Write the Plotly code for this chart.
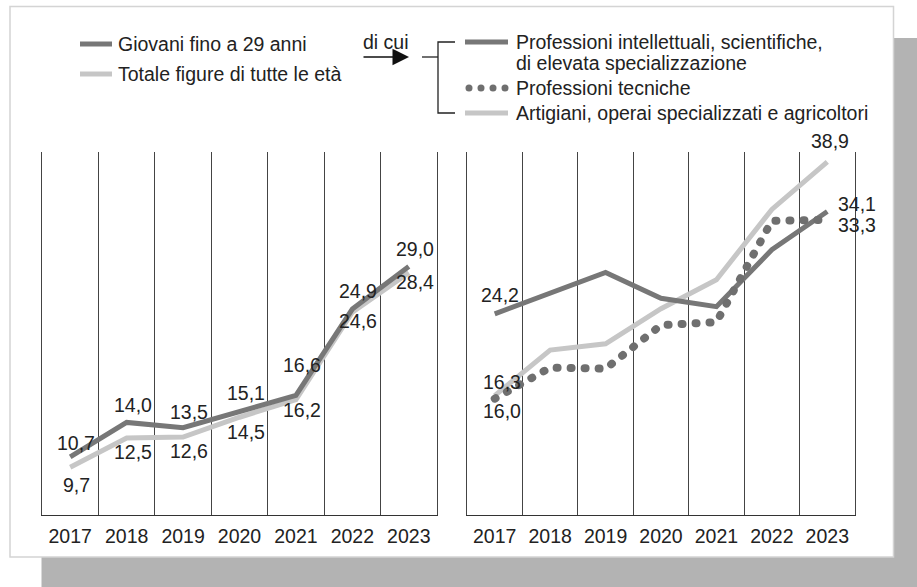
import plotly.graph_objects as go

# ---------------- data ----------------
years = ["2017", "2018", "2019", "2020", "2021", "2022", "2023"]

giovani = [10.7, 14.0, 13.5, 15.1, 16.6, 24.9, 29.0]
totale = [9.7, 12.5, 12.6, 14.5, 16.2, 24.6, 28.4]

intellettuali = [24.2, 26.2, 28.2, 25.7, 24.9, 30.4, 34.1]
tecniche = [16.0, 19.0, 18.9, 23.1, 23.4, 33.2, 33.3]
artigiani = [16.3, 20.7, 21.3, 24.7, 27.5, 34.3, 38.9]

legend_left = ["Giovani fino a 29 anni", "Totale figure di tutte le età"]
legend_right = ["Professioni intellettuali, scientifiche,", "di elevata specializzazione",
                "Professioni tecniche", "Artigiani, operai specializzati e agricoltori"]

# ---------------- style ----------------
W, H = 917, 587
DARK = "#777777"
LIGHT = "#c6c6c6"
DOT = "#6f6f6f"
TXT = "#222222"
FONT = "Liberation Sans, Arial, sans-serif"
FS = 19.5


def X(px):
    return px / W


def Y(py):
    return 1 - py / H


fig = go.Figure()

fig.add_trace(go.Scatter(x=years, y=totale, mode="lines", line=dict(color=LIGHT, width=5),
                         xaxis="x", yaxis="y", showlegend=False, hoverinfo="skip"))
fig.add_trace(go.Scatter(x=years, y=giovani, mode="lines", line=dict(color=DARK, width=5),
                         xaxis="x", yaxis="y", showlegend=False, hoverinfo="skip"))

fig.add_trace(go.Scatter(x=years, y=artigiani, mode="lines", line=dict(color=LIGHT, width=5),
                         xaxis="x2", yaxis="y2", showlegend=False, hoverinfo="skip"))
fig.add_trace(go.Scatter(x=years, y=intellettuali, mode="lines", line=dict(color=DARK, width=5),
                         xaxis="x2", yaxis="y2", showlegend=False, hoverinfo="skip"))
fig.add_trace(go.Scatter(x=years, y=tecniche, mode="lines",
                         line=dict(color=DOT, width=8, dash="1px,13px"),
                         xaxis="x2", yaxis="y2", showlegend=False, hoverinfo="skip"))


def fmt(v):
    return f"{v:.1f}".replace(".", ",")


annotations = []
font = dict(family=FONT, size=FS, color=TXT)

# left panel labels (dy upward in px); x given as category index
dy_giov = [14, 17.5, 16, 18, 30, 18, 17]
dy_tot = [-18, -14, -14, -14.5, -10, -9, -9]
for i, y in enumerate(years):
    annotations.append(dict(x=i, y=giovani[i], xref="x", yref="y", text=fmt(giovani[i]),
                            showarrow=False, xshift=6, yshift=dy_giov[i], font=font))
    annotations.append(dict(x=i, y=totale[i], xref="x", yref="y", text=fmt(totale[i]),
                            showarrow=False, xshift=6, yshift=dy_tot[i], font=font))

last = len(years) - 1
# right panel labels
annotations += [
    dict(x=0, y=intellettuali[0], xref="x2", yref="y2", text=fmt(intellettuali[0]),
         showarrow=False, xshift=5, yshift=19, font=font),
    dict(x=0, y=artigiani[0], xref="x2", yref="y2", text=fmt(artigiani[0]),
         showarrow=False, xshift=7, yshift=14, font=font),
    dict(x=0, y=tecniche[0], xref="x2", yref="y2", text=fmt(tecniche[0]),
         showarrow=False, xshift=7, yshift=-12, font=font),
    dict(x=last, y=artigiani[-1], xref="x2", yref="y2", text=fmt(artigiani[-1]),
         showarrow=False, xshift=3, yshift=21, font=font),
    dict(x=last, y=intellettuali[-1], xref="x2", yref="y2", text=fmt(intellettuali[-1]),
         showarrow=False, xshift=9, yshift=7, xanchor="left", font=font),
    dict(x=last, y=tecniche[-1], xref="x2", yref="y2", text=fmt(tecniche[-1]),
         showarrow=False, xshift=9, yshift=-5, xanchor="left", font=font),
]

# legend texts
annotations += [
    dict(x=X(116), y=Y(44), xref="paper", yref="paper", text=legend_left[0], showarrow=False,
         xanchor="left", yanchor="middle", font=font),
    dict(x=X(116), y=Y(74), xref="paper", yref="paper", text=legend_left[1], showarrow=False,
         xanchor="left", yanchor="middle", font=font),
    dict(x=X(361), y=Y(42), xref="paper", yref="paper", text="di cui", showarrow=False,
         xanchor="left", yanchor="middle", font=font),
    dict(x=X(514), y=Y(42), xref="paper", yref="paper", text=legend_right[0], showarrow=False,
         xanchor="left", yanchor="middle", font=font),
    dict(x=X(514), y=Y(63), xref="paper", yref="paper", text=legend_right[1], showarrow=False,
         xanchor="left", yanchor="middle", font=font),
    dict(x=X(514), y=Y(88), xref="paper", yref="paper", text=legend_right[2], showarrow=False,
         xanchor="left", yanchor="middle", font=font),
    dict(x=X(514), y=Y(113), xref="paper", yref="paper", text=legend_right[3], showarrow=False,
         xanchor="left", yanchor="middle", font=font),
    # arrow
    dict(x=X(409), y=Y(57), xref="paper", yref="paper", ax=-47, ay=0, text="", showarrow=True,
         arrowhead=2, arrowsize=2.2, arrowwidth=1.5, arrowcolor="#111111"),
]

shapes = []
# shadow and box
shapes.append(dict(type="rect", xref="paper", yref="paper", x0=X(41.5), x1=X(917), y0=Y(587), y1=Y(38),
                   fillcolor="#b3b3b3", line=dict(width=0), layer="below"))
shapes.append(dict(type="rect", xref="paper", yref="paper", x0=X(10), x1=X(893.5), y0=Y(557), y1=Y(6.5),
                   fillcolor="white", line=dict(color="#d4d4d4", width=1.5), layer="below"))
# legend samples
shapes.append(dict(type="line", xref="paper", yref="paper", x0=X(80), x1=X(112), y0=Y(44), y1=Y(44),
                   line=dict(color=DARK, width=5)))
shapes.append(dict(type="line", xref="paper", yref="paper", x0=X(80), x1=X(112), y0=Y(74), y1=Y(74),
                   line=dict(color=LIGHT, width=5)))
shapes.append(dict(type="line", xref="paper", yref="paper", x0=X(465), x1=X(508), y0=Y(42), y1=Y(42),
                   line=dict(color=DARK, width=5)))
shapes.append(dict(type="line", xref="paper", yref="paper", x0=X(465), x1=X(508), y0=Y(113), y1=Y(113),
                   line=dict(color=LIGHT, width=5)))
for cx in [469, 481, 493, 505]:
    shapes.append(dict(type="circle", xref="paper", yref="paper", x0=X(cx - 3.5), x1=X(cx + 3.5),
                       y0=Y(88 + 3.5), y1=Y(88 - 3.5), fillcolor=DOT, line=dict(width=0)))
# bracket
shapes.append(dict(type="path", xref="paper", yref="paper",
                   path=f"M {X(455)},{Y(42)} L {X(438)},{Y(42)} L {X(438)},{Y(113)} L {X(455)},{Y(113)}",
                   line=dict(color="#222222", width=1.3)))
shapes.append(dict(type="line", xref="paper", yref="paper", x0=X(422), x1=X(438), y0=Y(57), y1=Y(57),
                   line=dict(color="#222222", width=1.3)))

xaxis_common = dict(type="category", tickson="boundaries", showgrid=True, gridcolor="#444444",
                    gridwidth=1.2, showline=True, linecolor="#333333", linewidth=1.5, ticks="",
                    ticklabelstandoff=4,
                    range=[-0.5, 6.5], tickfont=dict(family=FONT, size=FS, color=TXT),
                    zeroline=False, fixedrange=True)
yaxis_common = dict(showgrid=False, showline=True, mirror=True, linecolor="#444444", linewidth=1.2,
                    showticklabels=False, ticks="", zeroline=False, fixedrange=True)

fig.update_layout(
    width=W, height=H,
    margin=dict(l=0, r=0, t=0, b=0),
    paper_bgcolor="white", plot_bgcolor="rgba(0,0,0,0)",
    xaxis=dict(domain=[X(42), X(437)], anchor="y", **xaxis_common),
    yaxis=dict(domain=[Y(514.5), Y(152)], anchor="x", range=[5.15, 40.0], **yaxis_common),
    xaxis2=dict(domain=[X(467), X(855)], anchor="y2", **xaxis_common),
    yaxis2=dict(domain=[Y(514.5), Y(152)], anchor="x2", range=[4.8, 39.85], **yaxis_common),
    annotations=annotations, shapes=shapes, showlegend=False,
)

post = """
document.body.style.margin='0';
function fixDots(){document.querySelectorAll('path.js-line').forEach(function(p){
 var d=p.style.strokeDasharray; if(d && d!=='none' && d!==''){p.style.strokeLinecap='round';}});}
fixDots(); setTimeout(fixDots,50); setTimeout(fixDots,300);
"""
fig.write_html("out.html", post_script=post, config={"displayModeBar": False, "staticPlot": True})
